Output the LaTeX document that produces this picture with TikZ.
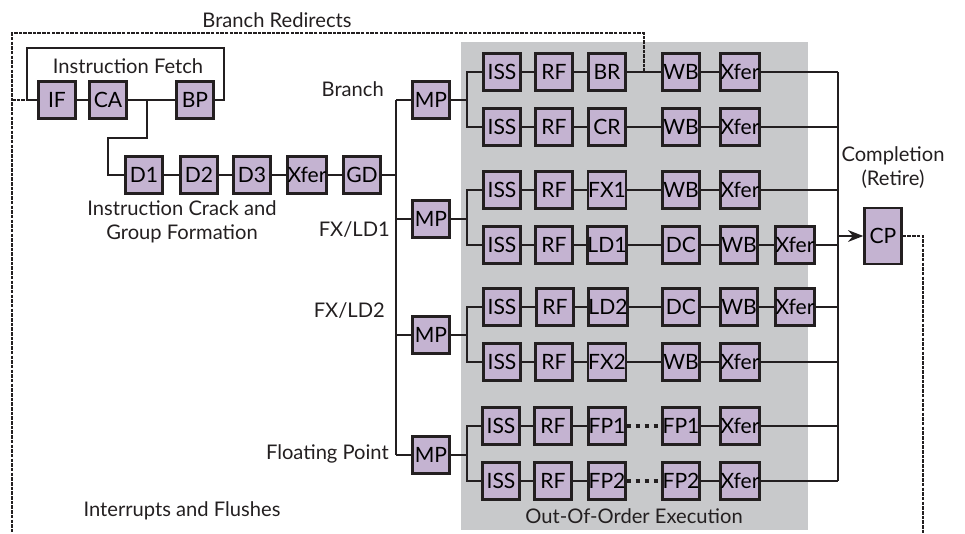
\documentclass[tikz,border=0pt]{standalone}
\usepackage{fontspec}
\setmainfont{Lato}
\usepackage{tikz}
\usetikzlibrary{arrows.meta,calc,positioning}
\definecolor{ooo-lilac}{RGB}{196,179,209}
\definecolor{ooo-gray}{RGB}{200,201,203}
\definecolor{ooo-ink}{RGB}{35,31,32}

\tikzset{
  stage/.style={draw=ooo-ink, fill=ooo-lilac, line width=2.4pt, minimum width=1.1cm,
    minimum height=1.1cm, inner sep=0pt, font=\fontsize{18}{20}\selectfont},
  link/.style={draw=ooo-ink, line width=1.9pt},
  redirect/.style={draw=ooo-ink, line width=1.4pt, dash pattern=on 3pt off 1pt},
  fpdots/.style={draw=ooo-ink, line width=3.6pt, dash pattern=on 3.6pt off 4pt},
  caption/.style={text=ooo-ink, font=\fontsize{17.2}{20.5}\selectfont, inner sep=0pt}
}

\begin{document}
\begin{tikzpicture}[x=0.03cm, y=-0.03cm]
  \useasboundingbox (0,0) rectangle (965,533);

  % Out-of-order execution area
  \fill[ooo-gray] (461,42) rectangle (808,530);
  \node[caption] (oootext) at (634,516) {Out-Of-Order Execution};

  % Instruction fetch
  \node[stage] (if) at (57,100) {IF};
  \node[stage] (ca) at (108,100) {CA};
  \node[stage] (bp) at (195,100) {BP};
  \node[caption] (fetchtext) at (128,66) {Instruction Fetch};

  % Crack and group formation
  \node[stage] (d1) at (144,175) {D1};
  \node[stage] (d2) at (199,175) {D2};
  \node[stage] (d3) at (252,175) {D3};
  \node[stage] (xferd) at (307,175) {Xfer};
  \node[stage] (gd) at (362,175) {GD};
  \node[caption, align=center] (cracktext) at (182,222) {Instruction Crack and\\Group Formation};

  % Dispatch
  \node[stage] (mp1) at (431,100) {MP};
  \node[stage] (mp2) at (431,219) {MP};
  \node[stage] (mp3) at (431,335) {MP};
  \node[stage] (mp4) at (431,455) {MP};
  \node[caption, anchor=east] (brtext) at (384,89) {Branch};
  \node[caption, anchor=east] (fxld1text) at (390,230) {FX/LD1};
  \node[caption, anchor=east] (fxld2text) at (385,311) {FX/LD2};
  \node[caption, anchor=east] (fptext) at (389,454) {Floating Point};

  % Row 1 - branch
  \node[stage] (iss1) at (502,72) {ISS};
  \node[stage] (rf1) at (554,72) {RF};
  \node[stage] (br) at (607,72) {BR};
  \node[stage] (wb1) at (681,72) {WB};
  \node[stage] (xfer1) at (740,72) {Xfer};

  % Row 2 - condition register
  \node[stage] (iss2) at (502,127) {ISS};
  \node[stage] (rf2) at (554,127) {RF};
  \node[stage] (cr) at (607,127) {CR};
  \node[stage] (wb2) at (681,127) {WB};
  \node[stage] (xfer2) at (740,127) {Xfer};

  % Row 3 - FX1
  \node[stage] (iss3) at (502,190) {ISS};
  \node[stage] (rf3) at (554,190) {RF};
  \node[stage] (fx1) at (607,190) {FX1};
  \node[stage] (wb3) at (681,190) {WB};
  \node[stage] (xfer3) at (740,190) {Xfer};

  % Row 4 - LD1
  \node[stage] (iss4) at (502,245) {ISS};
  \node[stage] (rf4) at (554,245) {RF};
  \node[stage] (ld1) at (607,245) {LD1};
  \node[stage] (dc4) at (681,245) {DC};
  \node[stage] (wb4) at (739,245) {WB};
  \node[stage] (xfer4) at (795,245) {Xfer};

  % Row 5 - LD2
  \node[stage] (iss5) at (502,307) {ISS};
  \node[stage] (rf5) at (555,307) {RF};
  \node[stage] (ld2) at (608,307) {LD2};
  \node[stage] (dc5) at (681,307) {DC};
  \node[stage] (wb5) at (739,307) {WB};
  \node[stage] (xfer5) at (795,307) {Xfer};

  % Row 6 - FX2
  \node[stage] (iss6) at (502,362) {ISS};
  \node[stage] (rf6) at (554,362) {RF};
  \node[stage] (fx2) at (607,362) {FX2};
  \node[stage] (wb6) at (681,362) {WB};
  \node[stage] (xfer6) at (740,362) {Xfer};

  % Row 7 - FP1
  \node[stage] (iss7) at (501,426) {ISS};
  \node[stage] (rf7) at (553,426) {RF};
  \node[stage] (fp1a) at (607,426) {FP1};
  \node[stage] (fp1b) at (681,426) {FP1};
  \node[stage] (xfer7) at (740,426) {Xfer};

  % Row 8 - FP2
  \node[stage] (iss8) at (501,481) {ISS};
  \node[stage] (rf8) at (553,481) {RF};
  \node[stage] (fp2a) at (607,481) {FP2};
  \node[stage] (fp2b) at (681,481) {FP2};
  \node[stage] (xfer8) at (740,481) {Xfer};

  % Completion
  \node[stage, minimum height=1.68cm] (cp) at (883,236) {CP};
  \node[caption, align=center] (cptext) at (893,168) {Completion\\(Retire)};
  \node[caption] (flushtext) at (182,511) {Interrupts and Flushes};

  \coordinate (lbus) at (396,0);
  \coordinate (brk) at (467,0);
  \coordinate (bus) at (838,0);
  \coordinate (split) at (147,100);

  % fetch and decode links
  \draw[link] (if) -- (ca) (ca) -- (bp);
  \draw[link] (bp.east) -- ++(9,0) |- (27,48) |- (if.west);
  \draw[link] (split) |- (108,138) |- (d1.west);
  \draw[link] (d1) -- (d2) (d2) -- (d3) (d3) -- (xferd) (xferd) -- (gd);
  \draw[link] (gd.east) -- (gd -| lbus);
  \draw[link] (mp1 -| lbus) -- (mp4 -| lbus);
  \draw[link] (mp1.west) -- (mp1 -| lbus) (mp2.west) -- (mp2 -| lbus)
    (mp3.west) -- (mp3 -| lbus) (mp4.west) -- (mp4 -| lbus);

  % issue brackets
  \draw[link] (mp1.east) -- (mp1 -| brk) (iss1.west) -| (brk |- iss2) -- (iss2.west);
  \draw[link] (mp2.east) -- (mp2 -| brk) (iss3.west) -| (brk |- iss4) -- (iss4.west);
  \draw[link] (mp3.east) -- (mp3 -| brk) (iss5.west) -| (brk |- iss6) -- (iss6.west);
  \draw[link] (mp4.east) -- (mp4 -| brk) (iss7.west) -| (brk |- iss8) -- (iss8.west);

  % pipelines
  \draw[link] (iss1) -- (rf1) (rf1) -- (br) (br) -- (wb1) (wb1) -- (xfer1);
  \draw[link] (iss2) -- (rf2) (rf2) -- (cr) (cr) -- (wb2) (wb2) -- (xfer2);
  \draw[link] (iss3) -- (rf3) (rf3) -- (fx1) (fx1) -- (wb3) (wb3) -- (xfer3);
  \draw[link] (iss4) -- (rf4) (rf4) -- (ld1) (ld1) -- (dc4) (dc4) -- (wb4) (wb4) -- (xfer4);
  \draw[link] (iss5) -- (rf5) (rf5) -- (ld2) (ld2) -- (dc5) (dc5) -- (wb5) (wb5) -- (xfer5);
  \draw[link] (iss6) -- (rf6) (rf6) -- (fx2) (fx2) -- (wb6) (wb6) -- (xfer6);
  \draw[link] (iss7) -- (rf7) (rf7) -- (fp1a) (fp1b) -- (xfer7);
  \draw[link] (iss8) -- (rf8) (rf8) -- (fp2a) (fp2b) -- (xfer8);
  \draw[fpdots] (fp1a.east) -- (fp1b.west);
  \draw[fpdots] (fp2a.east) -- (fp2b.west);

  % completion bus
  \draw[link] (xfer1.east) -- (xfer1 -| bus) (xfer2.east) -- (xfer2 -| bus)
    (xfer3.east) -- (xfer3 -| bus) (xfer4.east) -- (xfer4 -| bus)
    (xfer5.east) -- (xfer5 -| bus) (xfer6.east) -- (xfer6 -| bus)
    (xfer7.east) -- (xfer7 -| bus) (xfer8.east) -- (xfer8 -| bus);
  \draw[link] (xfer1 -| bus) -- (xfer8 -| bus);
  \draw[link, -{Stealth[length=13pt, width=10pt]}] (cp -| bus) -- (cp.west);

  % redirects and flushes
  \draw[redirect] ($(br.east)!0.5!(wb1.west)$) |- (12,33) -- (12,533);
  \draw[redirect] (12,100) -- (27,100);
  \draw[redirect] (cp.east) -| (923,533);
  \node[caption] (redirtext) at (277,20) {Branch Redirects};
\end{tikzpicture}
\end{document}
